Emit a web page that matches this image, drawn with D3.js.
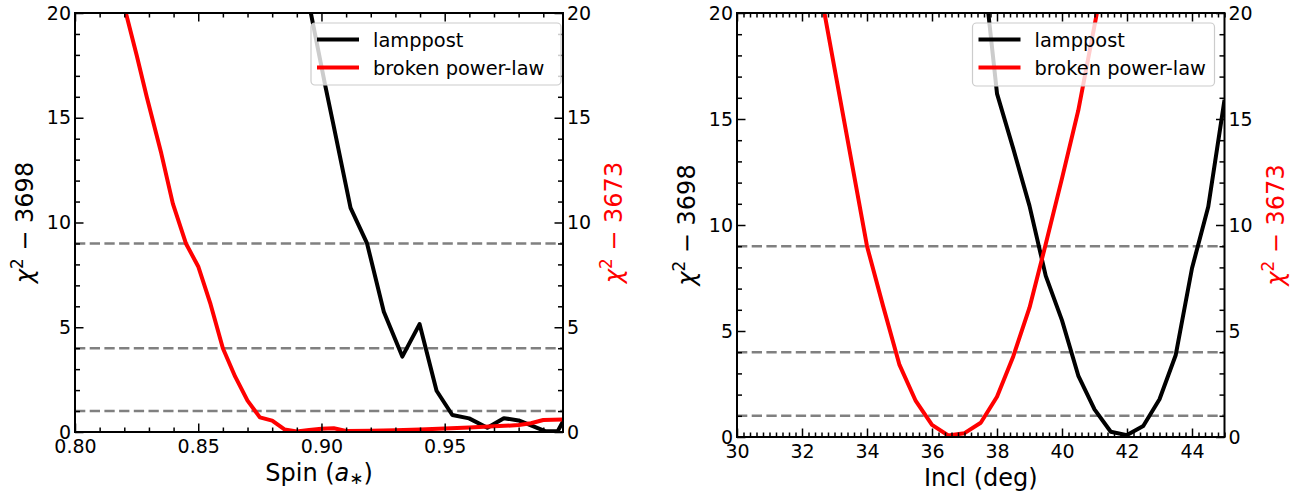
<!DOCTYPE html>
<html>
<head>
<meta charset="utf-8">
<script src="https://cdn.jsdelivr.net/npm/d3@7"></script>
<style>
  html, body { margin: 0; padding: 0; background: #fff; }
  svg { display: block; font-family: "DejaVu Sans", sans-serif; }
</style>
</head>
<body>
<svg id="chart" width="1299" height="493"></svg>
<script>
// ---------------- data ----------------
// Left panel: spin scan
const spinLampX = [0.894, 0.9016, 0.9048, 0.9118, 0.9185, 0.9253, 0.9328, 0.9398, 0.9467, 0.9531, 0.9599, 0.9673, 0.974, 0.980, 0.991, 0.9958, 0.998];
const spinLampY = [21.0, 16.5, 14.7, 10.7, 9.0, 5.74, 3.6, 5.15, 1.97, 0.81, 0.65, 0.2, 0.66, 0.55, 0.03, 0.03, 0.5];
const spinBplX = [0.815, 0.82, 0.825, 0.8291, 0.835, 0.8397, 0.845, 0.85, 0.855, 0.86, 0.865, 0.87, 0.875, 0.88, 0.885, 0.89, 0.895, 0.90, 0.905, 0.91, 0.92, 0.93, 0.94, 0.95, 0.96, 0.97, 0.98, 0.985, 0.99, 0.998];
const spinBplY = [23.0, 20.3, 18.0, 16.0, 13.3, 10.9, 9.0, 7.9, 6.1, 4.0, 2.64, 1.5, 0.7, 0.54, 0.12, 0.02, 0.1, 0.15, 0.18, 0.05, 0.06, 0.08, 0.12, 0.17, 0.22, 0.27, 0.33, 0.42, 0.57, 0.6];

// Right panel: inclination scan
const inclLampX = [37.5, 38, 38.5, 39, 39.5, 40, 40.5, 41, 41.5, 42, 42.5, 43, 43.5, 44, 44.5, 45];
const inclLampY = [23.3, 16.2, 13.6, 10.9, 7.6, 5.5, 2.9, 1.3, 0.25, 0.09, 0.52, 1.78, 3.87, 7.96, 10.86, 15.9];
const inclBplX = [32.5, 33, 33.5, 34, 34.5, 35, 35.5, 36, 36.5, 37, 37.5, 38, 38.5, 39, 39.5, 40, 40.5, 41, 41.5];
const inclBplY = [21.6, 17.4, 13.2, 9.0, 6.15, 3.4, 1.7, 0.57, 0.07, 0.18, 0.67, 1.9, 3.8, 6.1, 9.1, 12.2, 15.4, 19.4, 23.5];

// reference levels
const levels = [1, 4, 9];

// ticks
const spinMajor = [0.80, 0.85, 0.90, 0.95];
const spinMajorLabels = ["0.80", "0.85", "0.90", "0.95"];
const spinMinor = d3.range(0, 20).map(i => +(0.80 + i * 0.01).toFixed(2));
const inclMajor = [30, 32, 34, 36, 38, 40, 42, 44];
const inclMinor = d3.range(0, 76).map(i => +(30 + i * 0.2).toFixed(1));
const yMajor = [0, 5, 10, 15, 20];
const yMinor = d3.range(0, 21);

const legendNames = ["lamppost", "broken power-law"];
const seriesColors = ["#000000", "#ff0000"];

// ---------------- drawing ----------------
const svg = d3.select("#chart");
const TICK_FONT = 19, LABEL_FONT = 24, LEG_FONT = 19.4;

function yLabel(g, x, y, num, color) {
  const t = g.append("text")
    .attr("transform", `translate(${x},${y}) rotate(-90)`)
    .attr("text-anchor", "middle")
    .attr("fill", color)
    .attr("font-size", LABEL_FONT);
  t.append("tspan").attr("font-style", "italic").text("χ");
  t.append("tspan").attr("font-size", LABEL_FONT * 0.7).attr("dy", -10).text("2");
  t.append("tspan").attr("dy", 10).text(" − " + num);
}

function panel(cfg) {
  const { left, right, top, bottom, xDomain, xMajor, xMajorLabels, xMinor, series, xlabel, clipId, legend } = cfg;
  const x = d3.scaleLinear().domain(xDomain).range([left, right]);
  const y = d3.scaleLinear().domain([0, 20]).range([bottom, top]);
  const g = svg.append("g");

  g.append("clipPath").attr("id", clipId)
    .append("rect").attr("x", left).attr("y", top).attr("width", right - left).attr("height", bottom - top);

  // dashed reference lines
  g.append("g").selectAll("line").data(levels).join("line")
    .attr("x1", left).attr("x2", right)
    .attr("y1", d => y(d)).attr("y2", d => y(d))
    .attr("stroke", "#808080").attr("stroke-width", 2.6)
    .attr("stroke-dasharray", "10.3,4.4");

  // curves
  const line = d3.line().x(d => x(d[0])).y(d => y(d[1]));
  series.forEach((s, i) => {
    g.append("path")
      .datum(d3.zip(s.x, s.y))
      .attr("clip-path", `url(#${clipId})`)
      .attr("fill", "none")
      .attr("stroke", seriesColors[i])
      .attr("stroke-width", 4)
      .attr("stroke-linejoin", "round")
      .attr("d", line);
  });

  // axes
  const styleAxis = sel => {
    sel.select(".domain").remove();
    sel.selectAll("line").attr("stroke", "#000").attr("stroke-width", 1.5);
    sel.selectAll("text").attr("font-size", TICK_FONT).attr("font-family", "DejaVu Sans").attr("fill", "#000");
  };
  const fmtX = d => xMajorLabels ? xMajorLabels[xMajor.indexOf(d)] : String(d);
  const xMinorOnly = xMinor.filter(v => xMajor.indexOf(v) < 0);

  g.append("g").attr("transform", `translate(0,${bottom})`)
    .call(d3.axisBottom(x).tickValues(xMajor).tickFormat(fmtX).tickSize(-8.5).tickPadding(7.5)).call(styleAxis);
  g.append("g").attr("transform", `translate(0,${bottom})`)
    .call(d3.axisBottom(x).tickValues(xMinorOnly).tickFormat("").tickSize(-4.5)).call(styleAxis);
  g.append("g").attr("transform", `translate(0,${top})`)
    .call(d3.axisTop(x).tickValues(xMajor).tickFormat("").tickSize(-8.5)).call(styleAxis);
  g.append("g").attr("transform", `translate(0,${top})`)
    .call(d3.axisTop(x).tickValues(xMinorOnly).tickFormat("").tickSize(-4.5)).call(styleAxis);

  g.append("g").attr("transform", `translate(${left},0)`)
    .call(d3.axisLeft(y).tickValues(yMajor).tickSize(-8.5).tickPadding(4)).call(styleAxis);
  g.append("g").attr("transform", `translate(${left},0)`)
    .call(d3.axisLeft(y).tickValues(yMinor.filter(v => v % 5)).tickFormat("").tickSize(-5)).call(styleAxis);
  g.append("g").attr("transform", `translate(${right},0)`)
    .call(d3.axisRight(y).tickValues(yMajor).tickSize(-8.5).tickPadding(4)).call(styleAxis);
  g.append("g").attr("transform", `translate(${right},0)`)
    .call(d3.axisRight(y).tickValues(yMinor.filter(v => v % 5)).tickFormat("").tickSize(-5)).call(styleAxis);

  // frame
  g.append("rect").attr("x", left).attr("y", top).attr("width", right - left).attr("height", bottom - top)
    .attr("fill", "none").attr("stroke", "#000").attr("stroke-width", 2);

  // axis labels
  const xl = g.append("text").attr("x", (left + right) / 2).attr("y", bottom + 49)
    .attr("text-anchor", "middle").attr("font-size", LABEL_FONT).attr("fill", "#000");
  xlabel(xl);
  yLabel(g, left - 42, (top + bottom) / 2, "3698", "#000");
  yLabel(g, right + 59, (top + bottom) / 2, "3673", "#ff0000");

  // legend
  const L = legend;
  g.append("rect").attr("x", L.x).attr("y", L.y).attr("width", L.w).attr("height", L.h)
    .attr("rx", 4).attr("fill", "#fff").attr("fill-opacity", 0.8)
    .attr("stroke", "#cccccc").attr("stroke-width", 1.2);
  legendNames.forEach((name, i) => {
    const cy = L.y + 16.5 + i * 28;
    g.append("line").attr("x1", L.x + 6).attr("x2", L.x + 48).attr("y1", cy).attr("y2", cy)
      .attr("stroke", seriesColors[i]).attr("stroke-width", 4);
    g.append("text").attr("x", L.x + 62).attr("y", cy + 7).attr("font-size", LEG_FONT).attr("fill", "#000").text(name);
  });
}

panel({
  left: 75, right: 563, top: 13, bottom: 432,
  xDomain: [0.80, 0.998], xMajor: spinMajor, xMajorLabels: spinMajorLabels, xMinor: spinMinor,
  series: [{ x: spinLampX, y: spinLampY }, { x: spinBplX, y: spinBplY }],
  clipId: "clipL",
  legend: { x: 311, y: 23, w: 250, h: 62 },
  xlabel: t => {
    t.append("tspan").text("Spin (");
    t.append("tspan").attr("font-style", "italic").text("a");
    t.append("tspan").attr("font-size", LABEL_FONT * 0.7).attr("dy", 3).text("∗");
    t.append("tspan").attr("dy", -3).text(")");
  }
});

panel({
  left: 737, right: 1224.5, top: 13, bottom: 437,
  xDomain: [30, 45], xMajor: inclMajor, xMajorLabels: null, xMinor: inclMinor,
  series: [{ x: inclLampX, y: inclLampY }, { x: inclBplX, y: inclBplY }],
  clipId: "clipR",
  legend: { x: 972.5, y: 23, w: 242, h: 63 },
  xlabel: t => { t.text("Incl (deg)"); }
});
</script>
</body>
</html>
